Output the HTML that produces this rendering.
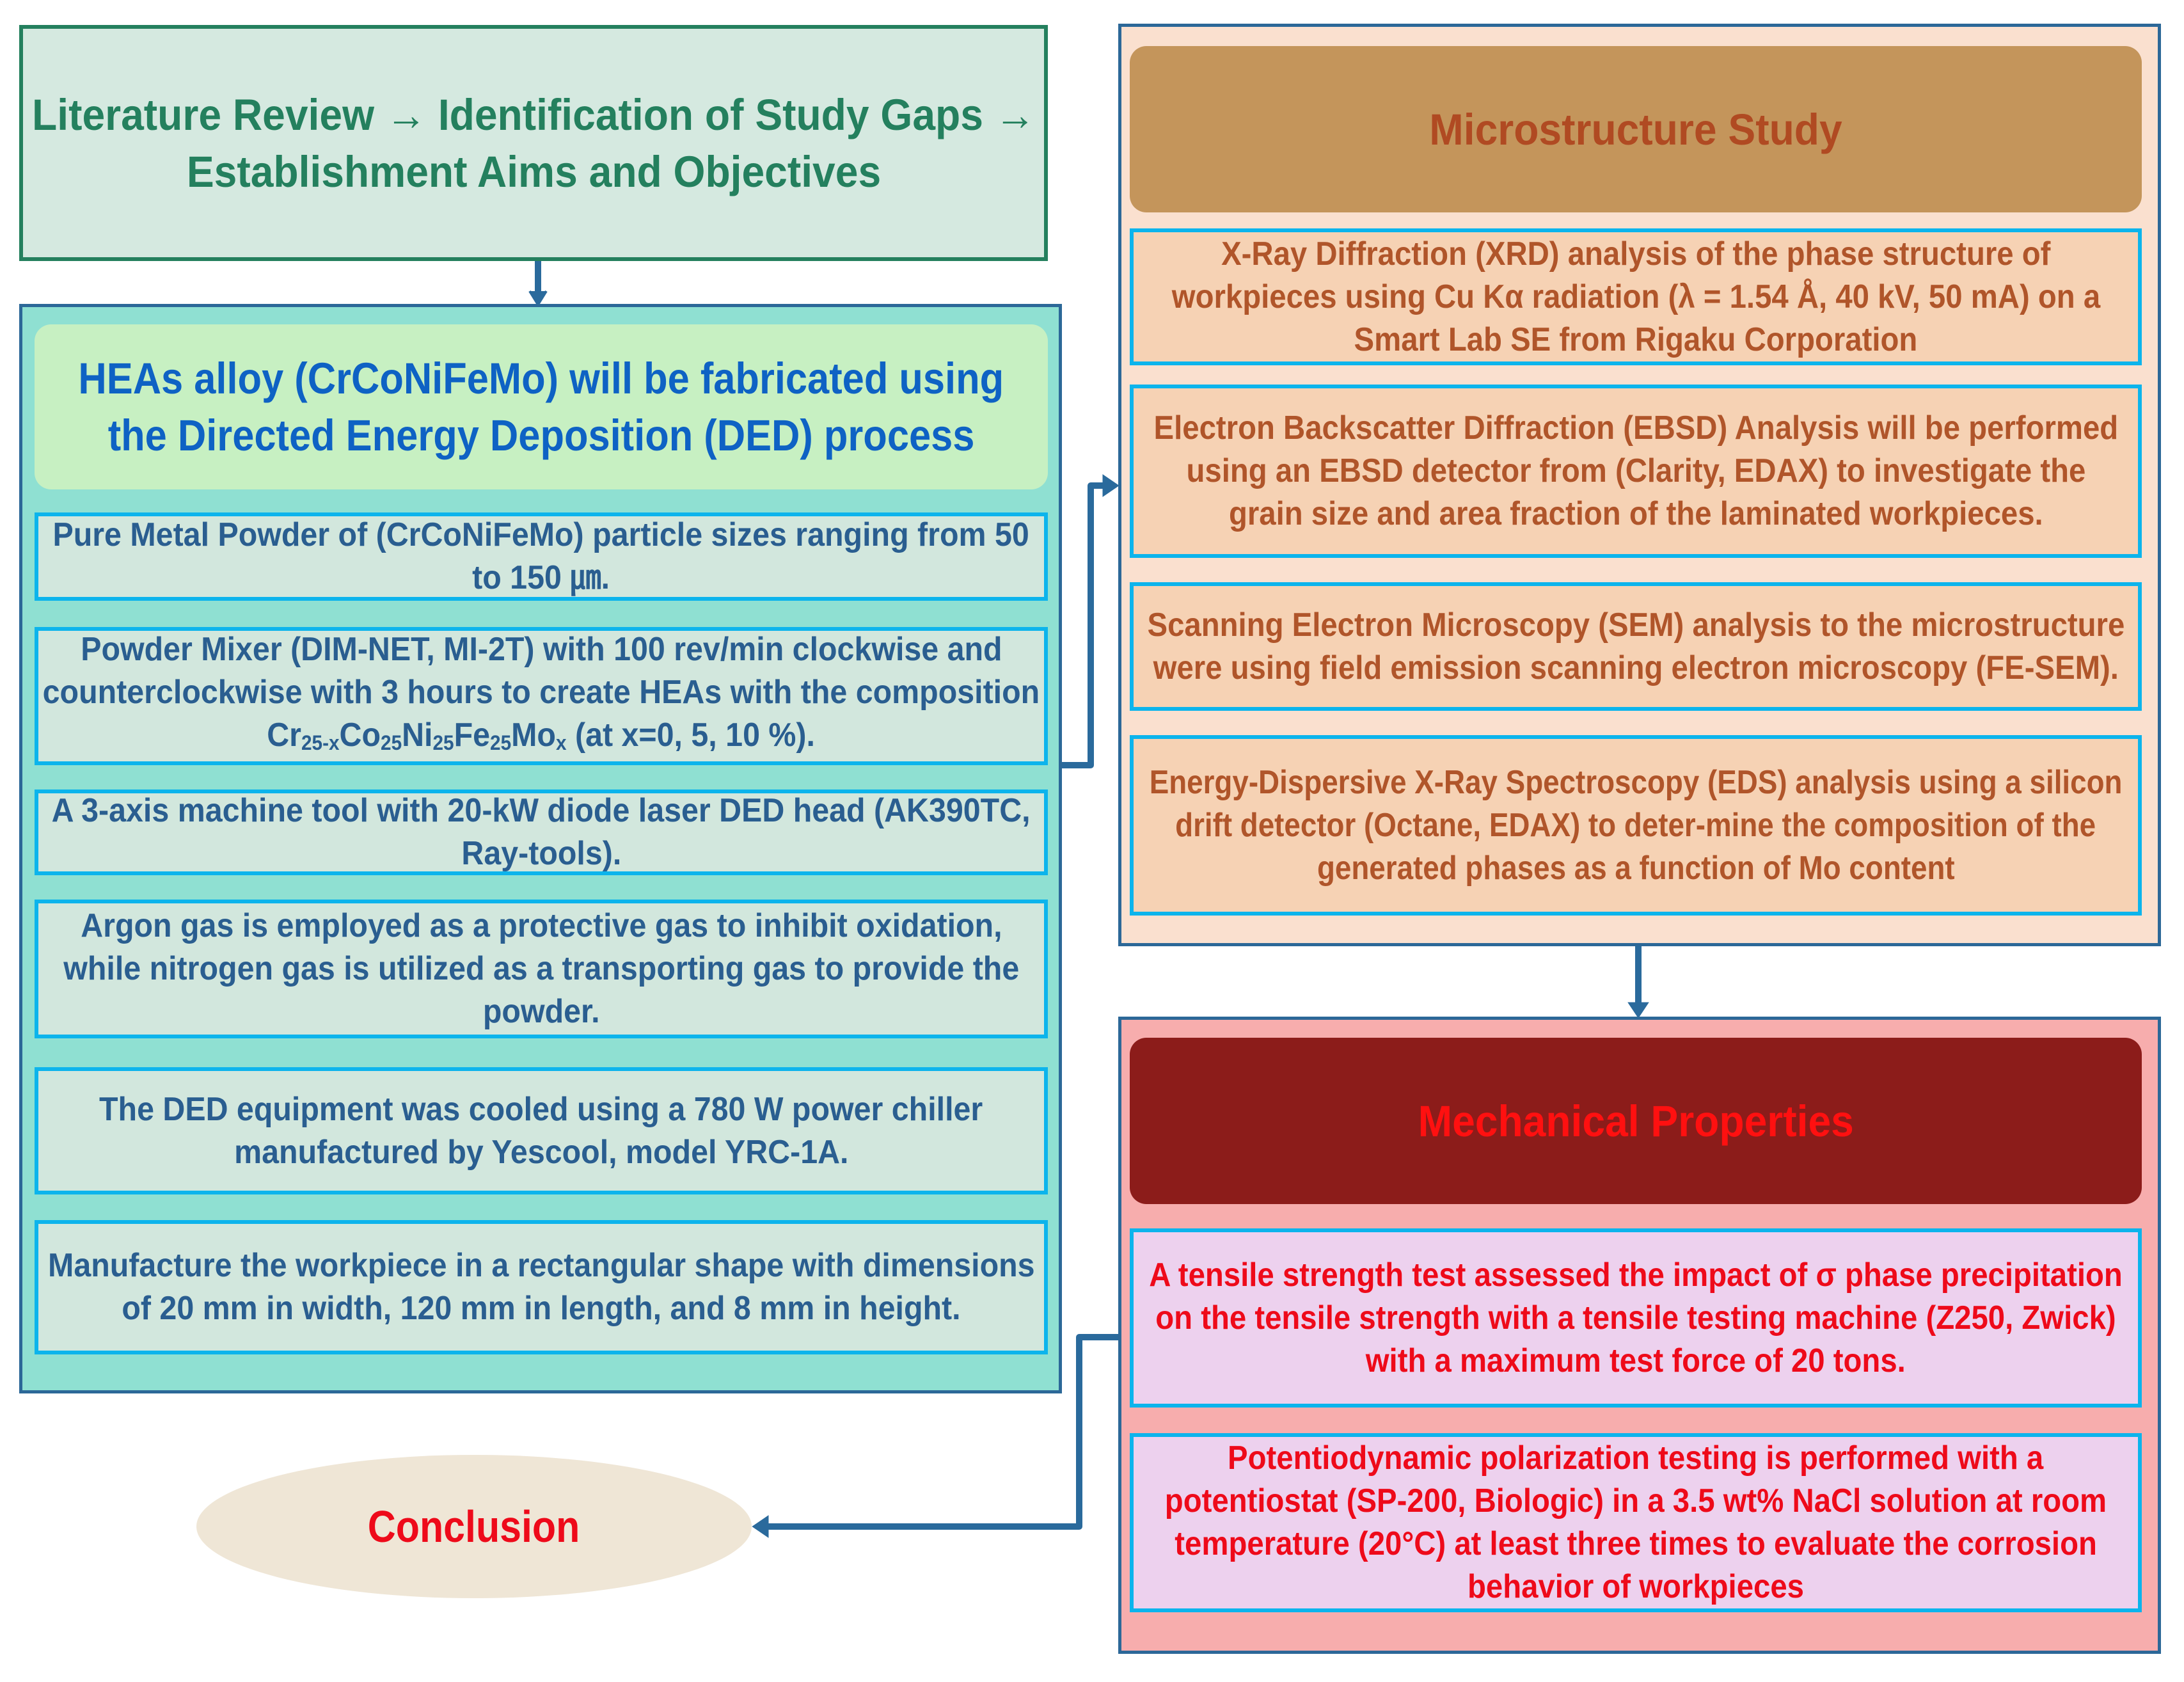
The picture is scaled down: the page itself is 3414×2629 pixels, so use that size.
<!DOCTYPE html>
<html><head><meta charset="utf-8"><style>
*{margin:0;padding:0;box-sizing:border-box}
body{width:3414px;height:2629px;background:#fff;position:relative;overflow:hidden;font-family:"Liberation Sans","DejaVu Sans",sans-serif;font-weight:bold}
.b{position:absolute;display:flex;flex-direction:column;align-items:center;justify-content:center}
.l{display:block;white-space:nowrap;transform:scaleX(.93);text-align:center}
.rt .l,.mt .l{transform:scaleX(.91)}
.s{font-size:52px;line-height:67px}
.h{font-size:69px;line-height:89px}
.sub{border:6px solid #0cb4ec}
.lt{background:#d2e7dd;color:#2a5e90}
.rt{background:#f6d2b4;color:#b0552a}
.mt{background:#edd1ee;color:#ee0a1a}
sub{font-size:32px;vertical-align:-6px}
</style></head><body>
<div class="b h" style="left:30px;top:39px;width:1608px;height:369px;background:#d5e9e0;border:6px solid #24805e;color:#24805e">
<span class="l">Literature Review → Identification of Study Gaps →</span>
<span class="l">Establishment Aims and Objectives</span></div>

<div style="position:absolute;left:30px;top:475px;width:1630px;height:1703px;background:#8fe0d2;border:5px solid #2c6898"></div>
<div class="b h" style="left:54px;top:507px;width:1584px;height:258px;background:#c7f0c2;border-radius:26px;color:#0e62c4">
<span class="l" style="transform:scaleX(.89)">HEAs alloy (CrCoNiFeMo) will be fabricated using</span>
<span class="l" style="transform:scaleX(.89)">the Directed Energy Deposition (DED) process</span></div>
<div class="b s sub lt" style="left:54px;top:801px;width:1584px;height:138px">
<span class="l">Pure Metal Powder of (CrCoNiFeMo) particle sizes ranging from 50</span><span class="l">to 150 ㎛.</span></div>
<div class="b s sub lt" style="left:54px;top:980px;width:1584px;height:216px">
<span class="l">Powder Mixer (DIM-NET, MI-2T) with 100 rev/min clockwise and</span>
<span class="l">counterclockwise with 3 hours to create HEAs with the composition</span>
<span class="l">Cr<sub>25-x</sub>Co<sub>25</sub>Ni<sub>25</sub>Fe<sub>25</sub>Mo<sub>x</sub> (at x=0, 5, 10 %).</span></div>
<div class="b s sub lt" style="left:54px;top:1234px;width:1584px;height:134px">
<span class="l">A 3-axis machine tool with 20-kW diode laser DED head (AK390TC,</span><span class="l">Ray-tools).</span></div>
<div class="b s sub lt" style="left:54px;top:1406px;width:1584px;height:217px">
<span class="l">Argon gas is employed as a protective gas to inhibit oxidation,</span>
<span class="l">while nitrogen gas is utilized as a transporting gas to provide the</span>
<span class="l">powder.</span></div>
<div class="b s sub lt" style="left:54px;top:1668px;width:1584px;height:199px">
<span class="l">The DED equipment was cooled using a 780 W power chiller</span>
<span class="l">manufactured by Yescool, model YRC-1A.</span></div>
<div class="b s sub lt" style="left:54px;top:1907px;width:1584px;height:210px">
<span class="l">Manufacture the workpiece in a rectangular shape with dimensions</span>
<span class="l">of 20 mm in width, 120 mm in length, and 8 mm in height.</span></div>

<div style="position:absolute;left:1748px;top:37px;width:1630px;height:1442px;background:#fae0cf;border:5px solid #2c6898"></div>
<div class="b h" style="left:1766px;top:72px;width:1582px;height:260px;background:#c4955b;border-radius:26px;color:#b04a22">
<span class="l">Microstructure Study</span></div>
<div class="b s sub rt" style="left:1766px;top:357px;width:1582px;height:214px">
<span class="l">X-Ray Diffraction (XRD) analysis of the phase structure of</span>
<span class="l">workpieces using Cu Kα radiation (λ = 1.54 Å, 40 kV, 50 mA) on a</span>
<span class="l">Smart Lab SE from Rigaku Corporation</span></div>
<div class="b s sub rt" style="left:1766px;top:601px;width:1582px;height:271px">
<span class="l">Electron Backscatter Diffraction (EBSD) Analysis will be performed</span>
<span class="l">using an EBSD detector from (Clarity, EDAX) to investigate the</span>
<span class="l">grain size and area fraction of the laminated workpieces.</span></div>
<div class="b s sub rt" style="left:1766px;top:910px;width:1582px;height:201px">
<span class="l">Scanning Electron Microscopy (SEM) analysis to the microstructure</span>
<span class="l">were using field emission scanning electron microscopy (FE-SEM).</span></div>
<div class="b s sub rt" style="left:1766px;top:1149px;width:1582px;height:282px">
<span class="l" style="transform:scaleX(.88)">Energy-Dispersive X-Ray Spectroscopy (EDS) analysis using a silicon</span>
<span class="l" style="transform:scaleX(.88)">drift detector (Octane, EDAX) to deter-mine the composition of the</span>
<span class="l" style="transform:scaleX(.88)">generated phases as a function of Mo content</span></div>

<div style="position:absolute;left:1748px;top:1589px;width:1630px;height:996px;background:#f7adad;border:5px solid #2c6898"></div>
<div class="b h" style="left:1766px;top:1622px;width:1582px;height:260px;background:#8c1c1a;border-radius:26px;color:#ff1010">
<span class="l">Mechanical Properties</span></div>
<div class="b s sub mt" style="left:1766px;top:1920px;width:1582px;height:280px">
<span class="l">A tensile strength test assessed the impact of σ phase precipitation</span>
<span class="l">on the tensile strength with a tensile testing machine (Z250, Zwick)</span>
<span class="l">with a maximum test force of 20 tons.</span></div>
<div class="b s sub mt" style="left:1766px;top:2240px;width:1582px;height:280px">
<span class="l">Potentiodynamic polarization testing is performed with a</span>
<span class="l">potentiostat (SP-200, Biologic) in a 3.5 wt% NaCl solution at room</span>
<span class="l">temperature (20°C) at least three times to evaluate the corrosion</span>
<span class="l">behavior of workpieces</span></div>

<div class="b" style="left:307px;top:2274px;width:868px;height:224px;border-radius:50%;background:#efe6d6;color:#ee0a1a;font-size:70px">
<span class="l" style="transform:scaleX(.87)">Conclusion</span></div>

<svg width="3414" height="2629" style="position:absolute;left:0;top:0" fill="none" stroke="#2a6a9c" stroke-width="10">
<path d="M841 408 V462"/><path d="M828 455 L841 476 L854 455" fill="#2a6a9c" stroke-width="4"/>
<path d="M1660 1196 H1705 V759 H1732" stroke-linejoin="round"/><path d="M1725 744 L1747 759 L1725 774 Z" fill="#2a6a9c" stroke-width="3"/>
<path d="M2561 1479 V1575"/><path d="M2547 1568 L2561 1589 L2575 1568 Z" fill="#2a6a9c" stroke-width="3"/>
<path d="M1748 2090 H1687 V2386 H1195" stroke-linejoin="round"/><path d="M1200 2371 L1178 2386 L1200 2401 Z" fill="#2a6a9c" stroke-width="3"/>
</svg>
</body></html>
